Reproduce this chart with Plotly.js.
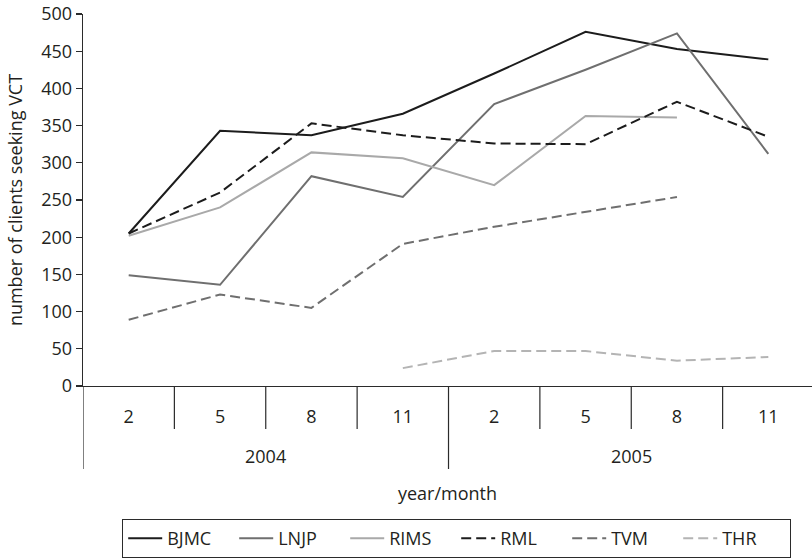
<!DOCTYPE html>
<html>
<head>
<meta charset="utf-8">
<script src="https://cdn.plot.ly/plotly-3.0.1.min.js"></script>
<style>html,body{margin:0;padding:0;background:#fff;}#chart{width:812px;height:558px;}</style>
</head>
<body>
<div id="chart"></div>
<script>
// Categories
var months = ['2', '5', '8', '11', '2', '5', '8', '11'];
var years = ['2004', '2005'];
var yearSpan = [[0, 3], [4, 7]];

// Series values (null = no data)
var BJMC = [205, 343, 337, 366, 420, 476, 453, 439];
var LNJP = [149, 136, 282, 254, 379, 425, 474, 312];
var RIMS = [202, 240, 314, 306, 270, 363, 361, null];
var RML  = [205, 260, 353, 337, 326, 325, 382, 335];
var TVM  = [89, 123, 105, 191, 214, 234, 254, null];
var THR  = [null, null, null, 24, 47, 47, 34, 39];

var seriesNames = ['BJMC', 'LNJP', 'RIMS', 'RML', 'TVM', 'THR'];
var seriesData = [BJMC, LNJP, RIMS, RML, TVM, THR];
var seriesColor = ['#1c1c1c', '#6f6f6f', '#a9a9a9', '#1c1c1c', '#6f6f6f', '#b4b4b4'];
var seriesDash = ['solid', 'solid', 'solid', '10px,5px', '10px,5px', '10px,5px'];

var idx = months.map(function (m, i) { return i; });

var traces = seriesNames.map(function (n, k) {
  return {
    type: 'scatter', mode: 'lines', name: n,
    x: idx, y: seriesData[k],
    line: {color: seriesColor[k], width: 2, dash: seriesDash[k]},
    connectgaps: false, hoverinfo: 'x+y+name'
  };
});

var axisColor = '#2b2b2b';
var shapes = [];
// month dividers
for (var i = 0; i < months.length - 1; i++) {
  if (i === 3) continue;
  shapes.push({type: 'line', xref: 'x', yref: 'paper', x0: i + 0.5, x1: i + 0.5, y0: 0, y1: -0.1156,
    line: {color: axisColor, width: 1.2}});
}
// year dividers
yearSpan.forEach(function (s) {
  shapes.push({type: 'line', xref: 'x', yref: 'paper', x0: s[0] - 0.5, x1: s[0] - 0.5, y0: 0, y1: -0.2231,
    line: {color: axisColor, width: 1.2}});
});

var annotations = years.map(function (y, k) {
  return {xref: 'x', yref: 'paper', x: (yearSpan[k][0] + yearSpan[k][1]) / 2, y: -0.187,
    yanchor: 'middle', xanchor: 'center', showarrow: false, text: y,
    font: {family: 'Open Sans, sans-serif', size: 18, color: '#231f20'}};
});

var layout = {
  width: 812, height: 558,
  margin: {l: 83, r: 0, t: 14, b: 172},
  paper_bgcolor: '#ffffff', plot_bgcolor: '#ffffff',
  font: {family: 'Open Sans, sans-serif', size: 18, color: '#231f20'},
  showlegend: true,
  legend: {orientation: 'h', x: 0.0535, xanchor: 'left', y: -0.357, yanchor: 'top',
    bordercolor: '#2b2b2b', borderwidth: 1.2, font: {size: 18},
    traceorder: 'normal', itemwidth: 34, entrywidth: 62, entrywidthmode: 'pixels'},
  xaxis: {
    range: [-0.5, 7.478], tickmode: 'array', tickvals: idx, ticktext: months,
    showgrid: false, zeroline: false, showline: true, linecolor: axisColor, linewidth: 1.3,
    ticks: '', ticklabelstandoff: 14,
    title: {text: 'year/month', standoff: 60, font: {size: 18}}
  },
  yaxis: {
    range: [0, 500], tickmode: 'linear', tick0: 0, dtick: 50,
    showgrid: false, zeroline: false, showline: true, linecolor: axisColor, linewidth: 1.3,
    ticks: 'outside', ticklen: 6, tickcolor: axisColor, tickwidth: 1.2,
    title: {text: 'number of clients seeking VCT', standoff: 14, font: {size: 18}}
  },
  shapes: shapes,
  annotations: annotations
};

Plotly.newPlot('chart', traces, layout, {displayModeBar: false, staticPlot: true});
</script>
</body>
</html>
